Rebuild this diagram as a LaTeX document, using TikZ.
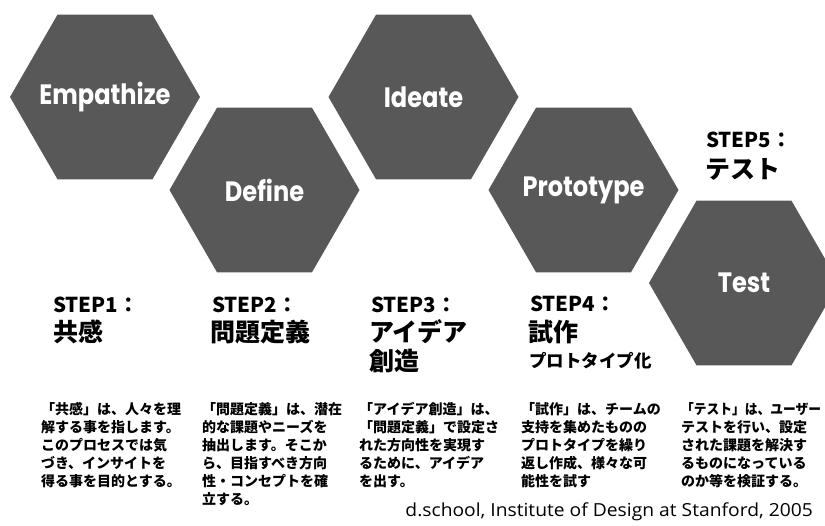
\documentclass[tikz,border=0pt]{standalone}
\usepackage{fontspec}
\usetikzlibrary{shapes.geometric}
\newfontfamily\cjk{Noto Sans CJK JP}
\newfontfamily\hexfont{Poppins}
\newfontfamily\footfont{Open Sans}
\definecolor{hexgray}{HTML}{585858}
\tikzset{
  hexa/.style={regular polygon, regular polygon sides=6, minimum size=190pt,
    inner sep=0pt, outer sep=0pt, fill=hexgray},
  hexlbl/.style={inner sep=0pt, text=white,
    font=\hexfont\bfseries\fontsize{28}{30}\selectfont},
  steplbl/.style={anchor=base west, inner sep=0pt, font=\cjk\bfseries\fontsize{20.5}{24}\selectfont},
  bigjp/.style={anchor=base west, inner sep=0pt, font=\cjk\bfseries\fontsize{25}{29}\selectfont},
  subjp/.style={anchor=base west, inner sep=0pt, font=\cjk\bfseries\fontsize{17.5}{20}\selectfont},
  desc/.style={anchor=north west, inner sep=0pt, align=left,
    font=\cjk\bfseries\fontsize{14}{18}\selectfont},
  foot/.style={anchor=base east, inner sep=0pt, font=\footfont\fontsize{18}{20}\selectfont}
}
\begin{document}
\begin{tikzpicture}[x=1pt,y=-1pt]
\useasboundingbox (0,0) rectangle (825,526);
\clip (0,0) rectangle (825,526);
\node[hexa] (h1) at (105,97) {};
\node[hexa] (h2) at (264.5,190) {};
\node[hexa] (h3) at (423.5,97) {};
\node[hexa] (h4) at (583.5,190) {};
\node[hexa] (h5) at (744,283) {};
\node[hexlbl] (t1) at (h1.center) {\scalebox{0.86}[1]{Empathize}};
\node[hexlbl] (t2) at (h2.center) {\scalebox{0.86}[1]{Define}};
\node[hexlbl] (t3) at (h3.center) {\scalebox{0.86}[1]{Ideate}};
\node[hexlbl] (t4) at (h4.center) {\scalebox{0.86}[1]{Prototype}};
\node[hexlbl] (t5) at (h5.center) {\scalebox{0.86}[1]{Test}};

\node[steplbl] (s1) at (53,313) {STEP1：};
\node[bigjp] (j1) at (53,342) {共感};
\node[steplbl] (s2) at (212,313) {STEP2：};
\node[bigjp] (j2) at (210,342) {問題定義};
\node[steplbl] (s3) at (371,313) {STEP3：};
\node[bigjp] (j3a) at (369,342) {アイデア};
\node[bigjp] (j3b) at (369,371) {創造};
\node[steplbl] (s4) at (530,312) {STEP4：};
\node[bigjp] (j4) at (528,342) {試作};
\node[subjp] (p4) at (529,368) {プロトタイプ化};
\node[steplbl] (s5) at (706,148) {STEP5：};
\node[bigjp] (j5) at (705,179) {テスト};

\node[desc] (d1) at (41,402) {「共感」は、人々を理\\解する事を指します。\\このプロセスでは気\\づき、インサイトを\\得る事を目的とする。};
\node[desc] (d2) at (202,402) {「問題定義」は、潜在\\的な課題やニーズを\\抽出します。そこか\\ら、目指すべき方向\\性・コンセプトを確\\立する。};
\node[desc] (d3) at (359,402) {「アイデア創造」は、\\「問題定義」で設定さ\\れた方向性を実現す\\るために、アイデア\\を出す。};
\node[desc] (d4) at (521,402) {「試作」は、チームの\\支持を集めたものの\\プロトタイプを繰り\\返し作成、様々な可\\能性を試す};
\node[desc] (d5) at (681,402) {\scalebox{0.91}[1]{「テスト」は、ユーザー}\\テストを行い、設定\\された課題を解決す\\るものになっている\\のか等を検証する。};

\node[foot] (ft) at (813,516) {\scalebox{1.07}[1]{d.school, Institute of Design at Stanford, 2005}};
\end{tikzpicture}
\end{document}
